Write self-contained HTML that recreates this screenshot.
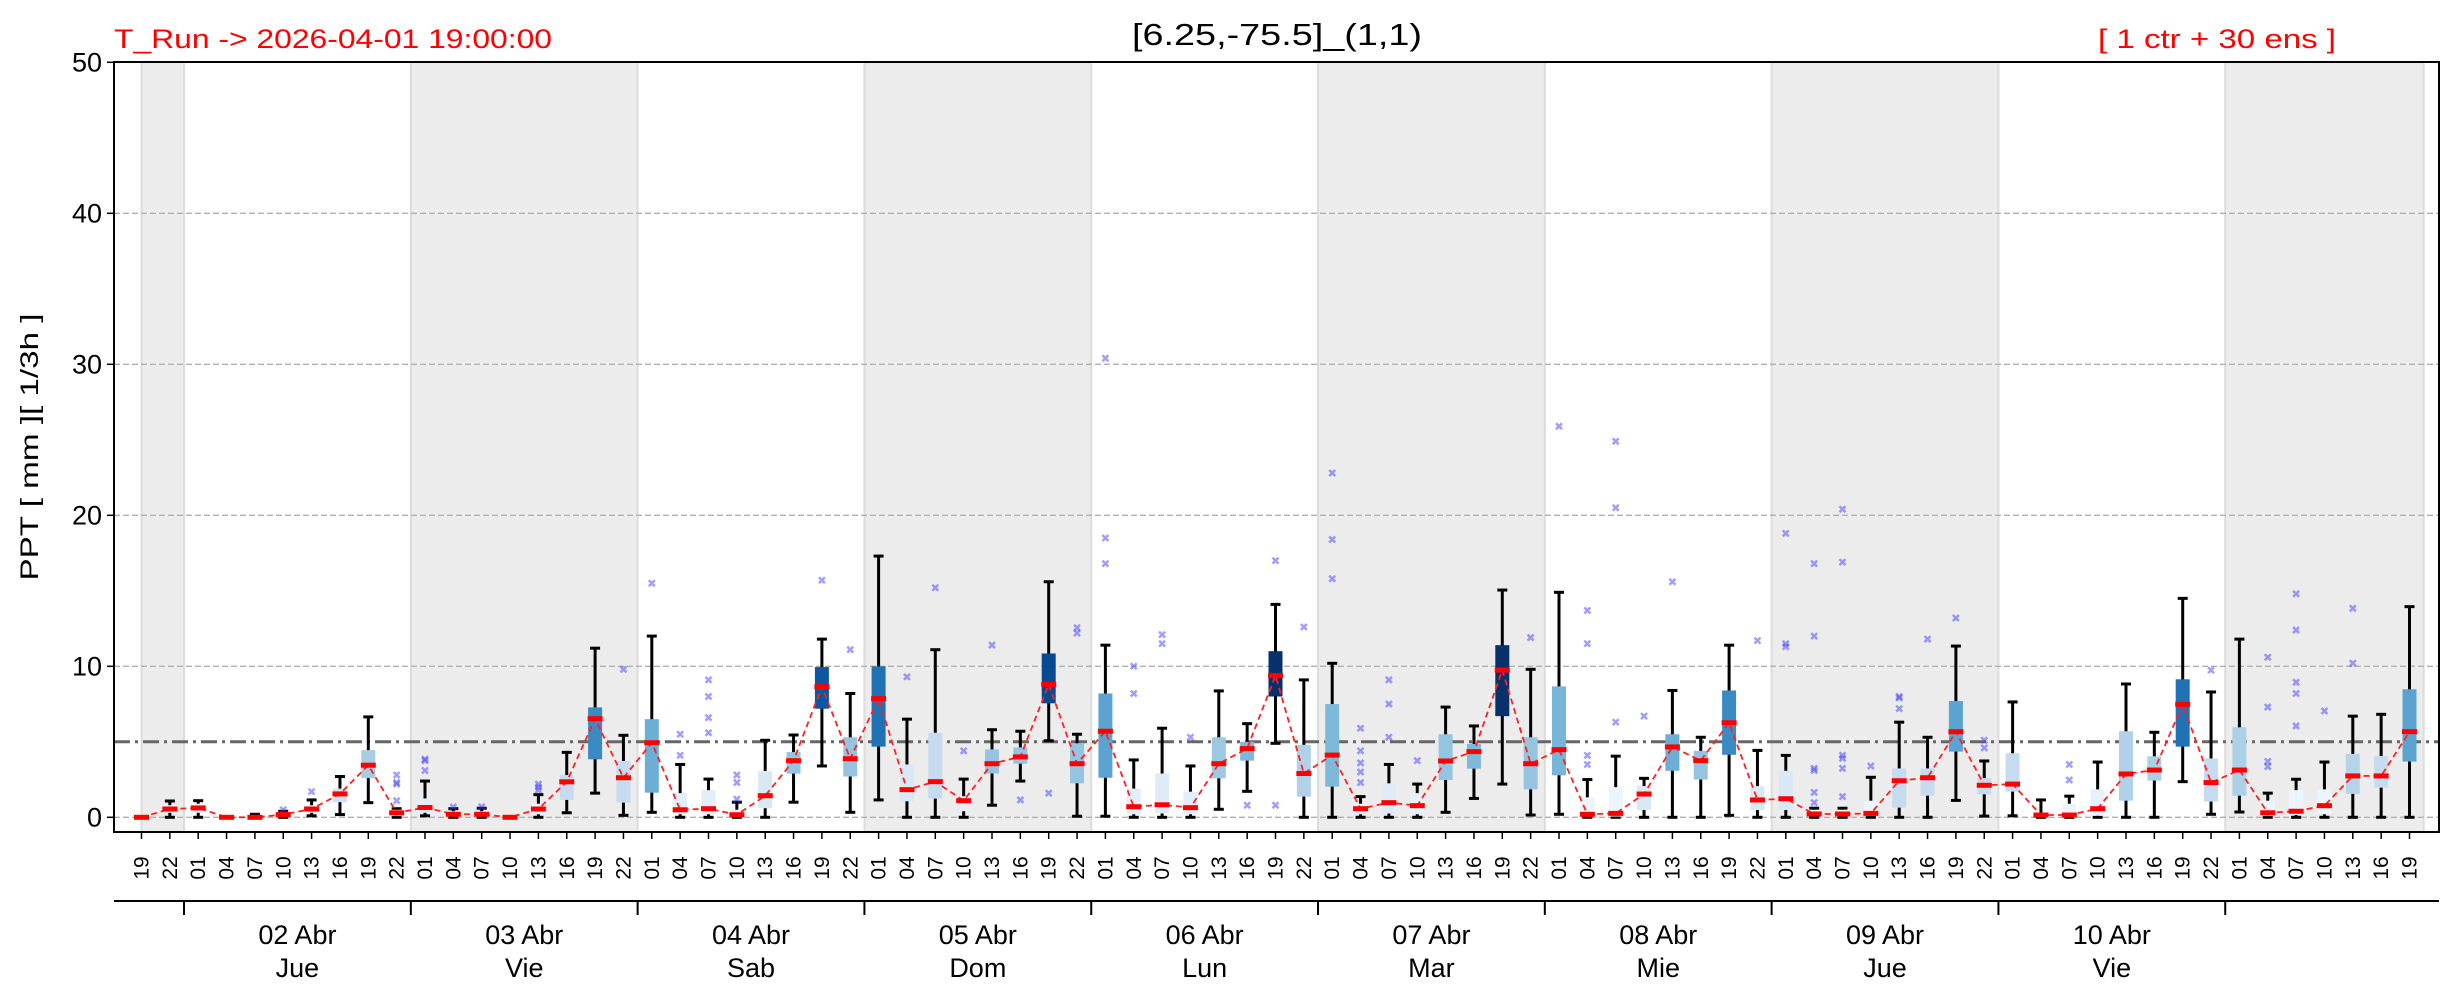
<!DOCTYPE html>
<html><head><meta charset="utf-8"><style>
html,body{margin:0;padding:0;background:#fff;}
svg{display:block;font-family:"Liberation Sans",sans-serif;}
</style></head><body>
<svg id="chart" width="2459" height="1001" viewBox="0 0 2459 1001" xmlns="http://www.w3.org/2000/svg">
<text x="114" y="48" font-size="27" fill="#ff0000" textLength="438" lengthAdjust="spacingAndGlyphs">T_Run -&gt; 2026-04-01  19:00:00</text>
<text x="1277" y="45" font-size="31" fill="#000" text-anchor="middle" textLength="290" lengthAdjust="spacingAndGlyphs">[6.25,-75.5]_(1,1)</text>
<text x="2098" y="48" font-size="27" fill="#ff0000" textLength="238" lengthAdjust="spacingAndGlyphs">[ 1 ctr + 30 ens ]</text>
<text transform="translate(38,447) rotate(-90)" font-size="25" text-anchor="middle" textLength="267" lengthAdjust="spacingAndGlyphs">PPT  [ mm ][ 1/3h ]</text>
<g id="bands"></g><g id="grid"></g><g id="boxes"></g><g id="axes"></g>
</svg>
<script>
const hours=["19","22","01","04","07","10","13","16","19","22","01","04","07","10","13","16","19","22","01","04","07","10","13","16","19","22","01","04","07","10","13","16","19","22","01","04","07","10","13","16","19","22","01","04","07","10","13","16","19","22","01","04","07","10","13","16","19","22","01","04","07","10","13","16","19","22","01","04","07","10","13","16","19","22","01","04","07","10","13","16","19"];
const days=["02 Abr","03 Abr","04 Abr","05 Abr","06 Abr","07 Abr","08 Abr","09 Abr","10 Abr"];
const weekdays=["Jue","Vie","Sab","Dom","Lun","Mar","Mie","Jue","Vie"];
const yTicks=[0,10,20,30,40,50];
const threshold=5;
const medians=[0,0.55,0.62,0,0,0.18,0.55,1.55,3.45,0.3,0.65,0.2,0.2,0,0.55,2.35,6.53,2.62,4.94,0.5,0.57,0.17,1.43,3.75,8.65,3.88,7.86,1.83,2.36,1.1,3.55,4.0,8.8,3.55,5.7,0.7,0.83,0.64,3.55,4.55,9.38,2.9,4.12,0.57,0.97,0.77,3.73,4.35,9.75,3.55,4.48,0.2,0.26,1.54,4.66,3.75,6.26,1.15,1.23,0.22,0.22,0.26,2.42,2.62,5.67,2.12,2.2,0.15,0.15,0.57,2.87,3.13,7.48,2.3,3.13,0.3,0.4,0.77,2.74,2.74,5.67];
const q1=[0,0.3,0.3,0,0,0.05,0.3,1.0,2.6,0.1,0.3,0.05,0.05,0,0.2,1.15,3.84,0.97,1.63,0.2,0.2,0.05,0.6,2.89,7.19,2.7,4.68,1.06,1.24,0.4,2.9,3.55,7.55,2.25,2.62,0.2,0.25,0.2,2.58,3.75,8.0,1.37,2.03,0.2,0.25,0.2,2.47,3.22,6.7,1.85,2.78,0.05,0.05,0.48,3.08,2.5,4.14,0.48,0.48,0.05,0.05,0.1,0.64,1.43,4.35,1.52,1.7,0.05,0.05,0.1,1.1,2.43,4.68,1.04,1.43,0.1,0.15,0.2,1.55,1.96,3.69];
const q3=[0,0.8,0.9,0,0.05,0.3,0.8,1.9,4.45,0.5,1.25,0.4,0.4,0,0.9,2.8,7.28,3.73,6.5,1.6,1.8,0.5,3.07,4.32,9.95,5.3,10.0,3.5,5.6,1.4,4.5,4.63,10.85,4.9,8.2,1.9,2.9,1.7,5.3,5.0,11.0,4.8,7.5,0.9,2.25,1.6,5.5,4.86,11.4,5.3,8.67,1.32,2.0,2.07,5.5,4.4,8.4,2.07,3.08,0.5,0.5,1.1,3.24,3.24,7.7,2.6,4.24,0.3,0.9,1.85,5.7,4.04,9.14,3.9,5.96,1.1,1.8,1.85,4.2,4.06,8.48];
const whiskerLow=[0,0,0,0,0,0,0.1,0.18,0.97,0,0.1,0,0,0,0,0.3,1.6,0.13,0.33,0,0,0,0,1.0,3.4,0.33,1.15,0,0,0,0.8,2.4,5.07,0.07,0.07,0,0,0,0.53,1.72,4.9,0,0,0,0,0,0.33,1.25,2.2,0.15,0.2,0,0,0,0,0,0.13,0,0,0,0,0,0,0,1.12,0.08,0.1,0,0,0,0,0,2.36,0.2,0.35,0,0,0,0,0,0];
const whiskerHigh=[0,1.08,1.1,0.05,0.2,0.4,1.15,2.7,6.65,0.57,2.4,0.57,0.6,0.05,1.5,4.3,11.2,5.43,12.0,3.5,2.53,1.0,5.1,5.45,11.8,8.2,17.3,6.5,11.1,2.53,5.8,5.7,15.6,5.5,11.4,3.8,5.9,3.4,8.37,6.2,14.1,9.1,10.2,1.37,3.5,2.2,7.3,6.05,15.05,9.8,14.9,2.5,4.05,2.58,8.4,5.3,11.4,4.43,4.1,0.6,0.6,2.65,6.3,5.3,11.34,3.73,7.64,1.15,1.4,3.66,8.83,5.63,14.5,8.3,11.8,1.6,2.52,3.66,6.7,6.82,13.95];
const exceedProb=[0,0.05,0.05,0,0,0.05,0.05,0.2,0.35,0.05,0.1,0.05,0.05,0,0.05,0.25,0.65,0.25,0.5,0.1,0.1,0.05,0.15,0.4,0.85,0.4,0.75,0.15,0.25,0.1,0.4,0.4,0.9,0.4,0.55,0.1,0.12,0.1,0.38,0.45,1.0,0.32,0.45,0.08,0.12,0.08,0.4,0.45,1.0,0.4,0.47,0.05,0.05,0.15,0.5,0.4,0.65,0.15,0.15,0.05,0.05,0.05,0.25,0.25,0.55,0.25,0.25,0.02,0.05,0.08,0.32,0.33,0.75,0.25,0.33,0.05,0.05,0.05,0.3,0.25,0.55];
const outliers={5:[0.5],6:[1.7],9:[2.8,2.3,2.2,1.1],10:[3.85,3.75,3.1],11:[0.68],12:[0.7],14:[1.8,2.0,2.2],17:[9.8],18:[15.5],19:[5.5,4.1],20:[9.1,8.0,6.6,5.6],21:[2.8,2.3,1.2],24:[15.7],25:[11.1],27:[9.3],28:[15.2],29:[4.4],30:[11.4],31:[1.15],32:[1.6],33:[12.55,12.2],34:[30.4,18.5,16.8],35:[10.0,8.2],36:[12.1,11.5],37:[5.3],39:[0.8],40:[17.0,0.8],41:[12.6],42:[22.8,18.4,15.8],43:[5.9,4.4,3.6,3.0,2.3],44:[9.1,7.5,5.3],45:[3.75],49:[11.9],50:[25.9],51:[13.7,11.5,4.1,3.5],52:[24.9,20.5,6.3],53:[6.7],54:[15.6],57:[11.7],58:[18.8,11.5,11.3],59:[16.8,12.0,3.24,3.1,1.65,0.97],60:[20.4,16.9,4.1,3.9,3.24,1.37],61:[3.4],62:[8.0,7.9,7.2],63:[11.8],64:[13.2],65:[5.1,4.6],68:[3.5,2.47],73:[9.75],75:[10.6,7.3,3.7,3.36],76:[14.8,12.4,8.94,8.2,6.05],77:[7.04],78:[13.84,10.2]};
const shadedRanges=[[0,1.5],[9.5,17.5],[25.5,33.5],[41.5,49.5],[57.5,65.5],[73.5,80.5]];

const NS="http://www.w3.org/2000/svg";
const L=114,R=2439,T=62,B=832;
const X=i=>141.5+28.35*i;
const Y=v=>817.3-15.1*v;
function mk(parent,tag,attrs,text){const e=document.createElementNS(NS,tag);for(const k in attrs)e.setAttribute(k,attrs[k]);if(text!==undefined)e.textContent=text;parent.appendChild(e);return e;}
const stops=["#f7fbff","#deebf7","#c6dbef","#9ecae1","#6baed6","#4292c6","#2171b5","#08519c","#08306b"];
function blues(t){t=Math.max(0,Math.min(1,t))*8;const a=Math.floor(Math.min(t,7.999)),f=t-a;const c1=stops[a],c2=stops[a+1];const p=s=>[1,3,5].map(k=>parseInt(s.substr(k,2),16));const x=p(c1),y=p(c2);return "rgb("+x.map((v,j)=>Math.round(v+(y[j]-v)*f)).join(",")+")";}

const gB=document.getElementById('bands'),gG=document.getElementById('grid'),gX=document.getElementById('boxes'),gA=document.getElementById('axes');
shadedRanges.forEach(r=>{
  const x0=X(r[0]),x1=X(r[1]);
  const b=mk(gB,'rect',{x:x0,y:T,width:x1-x0,height:B-T,fill:'#ececec'});
  
  
  mk(gB,'line',{x1:x0,x2:x0,y1:T,y2:B,stroke:'#dcdcdc','stroke-width':2});
  mk(gB,'line',{x1:x1,x2:x1,y1:T,y2:B,stroke:'#dcdcdc','stroke-width':2});
});
yTicks.forEach(v=>{
  if(v<50){const g=mk(gG,'line',{x1:L,x2:R,y1:Y(v),y2:Y(v),stroke:'#b0b0b0','stroke-width':1.3,'stroke-dasharray':'6,3'});
  
  }
  mk(gA,'line',{x1:L-7,x2:L,y1:Y(v),y2:Y(v),stroke:'#000','stroke-width':1.5});
  const t=mk(gA,'text',{x:L-12,y:Y(v)+9,'font-size':27,'text-anchor':'end'},String(v));
  
  
});
const th=mk(gG,'line',{x1:L,x2:R,y1:Y(threshold),y2:Y(threshold),stroke:'#666','stroke-width':3,'stroke-dasharray':'16,5,3,5'});



hours.forEach((h,i)=>{
  const x=X(i);
  const g=mk(gX,'g',{});
  
  
  mk(g,'line',{x1:x,x2:x,y1:Y(whiskerHigh[i]),y2:Y(whiskerLow[i]),stroke:'#000','stroke-width':3});
  mk(g,'line',{x1:x-5,x2:x+5,y1:Y(whiskerHigh[i]),y2:Y(whiskerHigh[i]),stroke:'#000','stroke-width':3});
  mk(g,'line',{x1:x-5,x2:x+5,y1:Y(whiskerLow[i]),y2:Y(whiskerLow[i]),stroke:'#000','stroke-width':3});
  const h3=Y(q1[i])-Y(q3[i]);
  if(h3>0) mk(g,'rect',{x:x-7,y:Y(q3[i]),width:14,height:h3,fill:blues(exceedProb[i])});
  (outliers[i]||[]).forEach(v=>{
    const o=mk(g,'path',{d:`M${x-3},${Y(v)-3}L${x+3},${Y(v)+3}M${x-3},${Y(v)+3}L${x+3},${Y(v)-3}`,stroke:'#4040ff','stroke-opacity':0.5,'stroke-width':2.5});
    
    
  });
});
let d='';medians.forEach((m,i)=>{d+=(i?'L':'M')+X(i)+','+Y(m);});
const ml=mk(gX,'path',{d:d,fill:'none',stroke:'#ff2020','stroke-width':1.8,'stroke-dasharray':'6,4'});


medians.forEach((m,i)=>{
  const r=mk(gX,'rect',{x:X(i)-7.5,y:Y(m)-2.5,width:15,height:5,fill:'#ff0000'});
  
  
});

mk(gA,'rect',{x:L,y:T,width:R-L,height:B-T,fill:'none',stroke:'#000','stroke-width':2});
hours.forEach((h,i)=>{
  const x=X(i);
  mk(gA,'line',{x1:x,x2:x,y1:B,y2:B+7,stroke:'#000','stroke-width':1.5});
  const t=mk(gA,'text',{transform:`translate(${x+7},868) rotate(-90)`,'font-size':21,'text-anchor':'middle'},h);
  
  
});
mk(gA,'line',{x1:L,x2:R,y1:901,y2:901,stroke:'#000','stroke-width':2});
days.forEach((dname,k)=>{
  const xb=X(1.5+8*k);
  mk(gA,'line',{x1:xb,x2:xb,y1:901,y2:915,stroke:'#000','stroke-width':2});
  const xc=X(5.5+8*k);
  const t=mk(gA,'text',{x:xc,y:944,'font-size':27,'text-anchor':'middle'},dname);
  
  
  const w=mk(gA,'text',{x:xc,y:977,'font-size':27,'text-anchor':'middle'},weekdays[k]);
  
  
});
const lastB=X(1.5+8*days.length);
mk(gA,'line',{x1:lastB,x2:lastB,y1:901,y2:915,stroke:'#000','stroke-width':2});
</script>
</body></html>
